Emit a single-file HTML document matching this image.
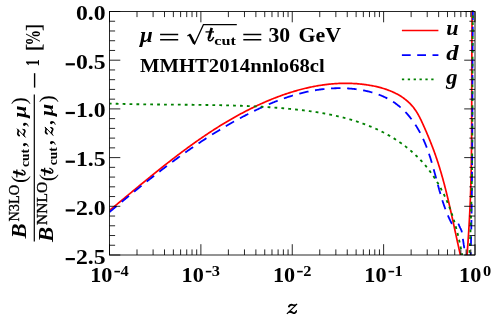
<!DOCTYPE html>
<html><head><meta charset="utf-8"><title>plot</title>
<style>html,body{margin:0;padding:0;background:#fff;}svg{display:block;will-change:transform;}text{font-family:"Liberation Serif",serif;font-weight:bold;fill:#000;}</style>
</head><body>
<svg width="498" height="325" viewBox="0 0 498 325">
<rect x="0" y="0" width="498" height="325" fill="#fff"/>
<defs><clipPath id="c"><rect x="109.5" y="10.6" width="365.5" height="244.4"/></clipPath></defs>
<g clip-path="url(#c)" fill="none" stroke-linejoin="round">
<path d="M109.48,210.40 L110.26,209.77 L111.04,209.13 L111.81,208.49 L112.59,207.86 L113.36,207.22 L114.14,206.58 L114.91,205.95 L115.69,205.31 L116.46,204.67 L117.23,204.04 L118.01,203.40 L118.78,202.76 L119.55,202.12 L120.33,201.48 L121.10,200.84 L121.87,200.21 L122.65,199.57 L123.42,198.93 L124.19,198.29 L124.96,197.65 L125.74,197.01 L126.51,196.37 L127.28,195.73 L128.05,195.10 L128.83,194.46 L129.60,193.82 L130.37,193.18 L131.14,192.54 L131.92,191.90 L132.69,191.26 L133.46,190.63 L134.23,189.99 L135.01,189.35 L135.78,188.71 L136.55,188.08 L137.32,187.44 L138.10,186.80 L138.87,186.16 L139.64,185.53 L140.42,184.89 L141.19,184.26 L141.96,183.62 L142.74,182.99 L143.51,182.35 L144.29,181.72 L145.06,181.08 L145.83,180.45 L146.61,179.82 L147.38,179.18 L148.16,178.55 L148.94,177.92 L149.71,177.29 L150.49,176.66 L151.26,176.03 L152.04,175.40 L152.82,174.77 L153.60,174.14 L154.37,173.51 L155.15,172.88 L155.93,172.26 L156.71,171.63 L157.49,171.01 L158.27,170.38 L159.05,169.76 L159.83,169.13 L160.61,168.51 L161.39,167.89 L162.18,167.27 L162.96,166.65 L163.74,166.03 L164.53,165.41 L165.31,164.79 L166.09,164.17 L166.88,163.56 L167.66,162.94 L168.45,162.33 L169.24,161.71 L170.03,161.10 L170.81,160.49 L171.60,159.88 L172.39,159.27 L173.18,158.66 L173.97,158.05 L174.76,157.44 L175.55,156.84 L176.35,156.23 L177.14,155.63 L177.93,155.02 L178.73,154.42 L179.52,153.82 L180.32,153.22 L181.12,152.62 L181.91,152.03 L182.71,151.43 L183.51,150.84 L184.31,150.24 L185.11,149.65 L185.91,149.06 L186.72,148.47 L187.52,147.88 L188.32,147.29 L189.13,146.71 L189.93,146.12 L190.74,145.54 L191.55,144.96 L192.36,144.38 L193.16,143.80 L193.97,143.22 L194.79,142.64 L195.60,142.07 L196.41,141.49 L197.22,140.92 L198.04,140.35 L198.86,139.78 L199.67,139.22 L200.49,138.65 L201.31,138.09 L202.13,137.52 L202.95,136.96 L203.77,136.40 L204.60,135.84 L205.42,135.29 L206.25,134.73 L207.07,134.18 L207.90,133.63 L208.73,133.08 L209.56,132.53 L210.39,131.98 L211.22,131.44 L212.06,130.90 L212.89,130.36 L213.73,129.82 L214.56,129.28 L215.40,128.74 L216.24,128.21 L217.08,127.68 L217.92,127.15 L218.77,126.62 L219.61,126.09 L220.46,125.57 L221.30,125.05 L222.15,124.53 L223.00,124.01 L223.85,123.49 L224.70,122.98 L225.56,122.47 L226.41,121.96 L227.27,121.45 L228.13,120.94 L228.99,120.44 L229.85,119.94 L230.71,119.44 L231.57,118.94 L232.44,118.44 L233.31,117.95 L234.17,117.46 L235.04,116.97 L235.91,116.48 L236.79,116.00 L237.66,115.52 L238.54,115.04 L239.41,114.56 L240.29,114.09 L241.17,113.61 L242.05,113.14 L242.94,112.67 L243.82,112.21 L244.71,111.74 L245.60,111.28 L246.49,110.83 L247.38,110.37 L248.27,109.92 L249.16,109.46 L250.06,109.02 L250.96,108.57 L251.86,108.13 L252.76,107.68 L253.66,107.25 L254.57,106.81 L255.47,106.38 L256.38,105.95 L257.29,105.52 L258.20,105.09 L259.12,104.67 L260.03,104.25 L260.95,103.83 L261.87,103.42 L262.78,103.01 L263.71,102.60 L264.63,102.20 L265.55,101.80 L266.48,101.40 L267.40,101.00 L268.33,100.61 L269.26,100.22 L270.19,99.84 L271.12,99.46 L272.06,99.08 L272.99,98.70 L273.93,98.33 L274.87,97.96 L275.81,97.60 L276.75,97.24 L277.69,96.88 L278.63,96.53 L279.58,96.18 L280.52,95.83 L281.47,95.49 L282.42,95.15 L283.37,94.82 L284.32,94.48 L285.27,94.16 L286.22,93.84 L287.17,93.52 L288.13,93.20 L289.08,92.89 L290.04,92.58 L291.00,92.28 L291.96,91.98 L292.92,91.69 L293.88,91.40 L294.84,91.12 L295.81,90.84 L296.77,90.56 L297.74,90.29 L298.70,90.02 L299.67,89.76 L300.64,89.50 L301.61,89.25 L302.58,89.00 L303.55,88.76 L304.52,88.52 L305.49,88.28 L306.46,88.05 L307.44,87.83 L308.41,87.61 L309.39,87.39 L310.36,87.18 L311.34,86.98 L312.32,86.78 L313.30,86.58 L314.28,86.40 L315.26,86.21 L316.24,86.03 L317.22,85.86 L318.20,85.69 L319.18,85.53 L320.17,85.37 L321.15,85.22 L322.13,85.07 L323.12,84.93 L324.10,84.80 L325.09,84.67 L326.08,84.54 L327.06,84.42 L328.05,84.31 L329.04,84.20 L330.03,84.10 L331.02,84.01 L332.00,83.92 L332.99,83.84 L333.98,83.76 L334.97,83.69 L335.97,83.62 L336.96,83.56 L337.95,83.51 L338.94,83.46 L339.93,83.42 L340.92,83.39 L341.92,83.36 L342.91,83.34 L343.90,83.32 L344.90,83.31 L345.89,83.31 L346.88,83.31 L347.88,83.32 L348.87,83.34 L349.87,83.37 L350.86,83.40 L351.85,83.43 L352.85,83.48 L353.84,83.53 L354.84,83.59 L355.83,83.65 L356.83,83.72 L357.82,83.80 L358.82,83.88 L359.81,83.98 L360.81,84.08 L361.80,84.18 L362.80,84.30 L363.79,84.42 L364.79,84.54 L365.78,84.68 L366.77,84.82 L367.77,84.97 L368.76,85.13 L369.76,85.29 L370.75,85.47 L371.74,85.65 L372.73,85.84 L373.72,86.03 L374.71,86.24 L375.69,86.45 L376.67,86.68 L377.65,86.91 L378.63,87.15 L379.60,87.40 L380.57,87.66 L381.54,87.93 L382.50,88.21 L383.46,88.49 L384.41,88.79 L385.36,89.10 L386.30,89.42 L387.24,89.75 L388.18,90.09 L389.10,90.44 L390.02,90.80 L390.94,91.18 L391.85,91.56 L392.75,91.96 L393.64,92.37 L394.53,92.79 L395.41,93.22 L396.28,93.66 L397.14,94.12 L398.00,94.59 L398.84,95.07 L399.68,95.56 L400.51,96.07 L401.33,96.59 L402.14,97.12 L402.94,97.67 L403.72,98.23 L404.50,98.80 L405.27,99.39 L406.02,99.99 L406.77,100.60 L407.50,101.24 L408.22,101.88 L408.93,102.54 L409.63,103.21 L410.31,103.90 L410.99,104.61 L411.64,105.33 L412.29,106.06 L412.92,106.81 L413.54,107.58 L414.14,108.36 L414.73,109.16 L415.30,109.98 L415.86,110.81 L416.41,111.65 L416.95,112.51 L417.47,113.38 L417.98,114.26 L418.48,115.15 L418.97,116.05 L419.45,116.96 L419.92,117.88 L420.39,118.80 L420.84,119.73 L421.29,120.66 L421.74,121.60 L422.17,122.54 L422.61,123.49 L423.03,124.43 L423.46,125.38 L423.88,126.32 L424.29,127.27 L424.71,128.21 L425.12,129.15 L425.53,130.09 L425.94,131.03 L426.34,131.96 L426.74,132.90 L427.14,133.83 L427.54,134.77 L427.93,135.70 L428.32,136.63 L428.71,137.56 L429.09,138.50 L429.47,139.43 L429.85,140.36 L430.23,141.29 L430.60,142.22 L430.97,143.15 L431.34,144.08 L431.70,145.01 L432.06,145.94 L432.42,146.87 L432.77,147.81 L433.13,148.74 L433.48,149.67 L433.82,150.60 L434.16,151.54 L434.50,152.47 L434.84,153.41 L435.17,154.35 L435.50,155.29 L435.83,156.23 L436.15,157.17 L436.47,158.11 L436.79,159.05 L437.11,159.99 L437.42,160.94 L437.73,161.88 L438.04,162.83 L438.34,163.77 L438.64,164.72 L438.94,165.67 L439.24,166.62 L439.53,167.57 L439.82,168.52 L440.11,169.47 L440.40,170.42 L440.68,171.38 L440.96,172.33 L441.24,173.28 L441.52,174.24 L441.79,175.19 L442.06,176.15 L442.33,177.11 L442.60,178.07 L442.87,179.02 L443.13,179.98 L443.39,180.94 L443.65,181.90 L443.91,182.87 L444.17,183.83 L444.42,184.79 L444.67,185.75 L444.92,186.72 L445.17,187.68 L445.42,188.65 L445.67,189.61 L445.91,190.58 L446.15,191.54 L446.39,192.51 L446.63,193.48 L446.87,194.45 L447.11,195.41 L447.34,196.38 L447.57,197.35 L447.81,198.32 L448.04,199.29 L448.27,200.26 L448.50,201.23 L448.72,202.21 L448.95,203.18 L449.17,204.15 L449.40,205.12 L449.62,206.09 L449.84,207.07 L450.07,208.04 L450.29,209.02 L450.51,209.99 L450.72,210.96 L450.94,211.94 L451.16,212.91 L451.38,213.89 L451.59,214.86 L451.81,215.84 L452.02,216.82 L452.24,217.79 L452.45,218.77 L452.66,219.74 L452.88,220.72 L453.09,221.70 L453.30,222.67 L453.51,223.65 L453.73,224.63 L453.94,225.61 L454.15,226.58 L454.36,227.56 L454.57,228.54 L454.78,229.52 L454.99,230.49 L455.20,231.47 L455.41,232.45 L455.63,233.43 L455.84,234.41 L456.05,235.38 L456.26,236.36 L456.47,237.34 L456.68,238.32 L456.90,239.29 L457.11,240.27 L457.32,241.25 L457.54,242.23 L457.75,243.20 L457.97,244.18 L458.18,245.16 L458.40,246.14 L458.61,247.11 L458.83,248.09 L459.05,249.07 L459.27,250.04 L459.49,251.02 L459.71,252.00 L459.93,252.97 L460.15,253.95 L460.38,254.92 L460.60,255.90 L460.83,256.87 L461.05,257.85 L461.28,258.82" stroke="#ff0000" stroke-width="1.7"/>
<path d="M466.74,258.80 L466.82,257.80 L466.90,256.81 L466.98,255.81 L467.06,254.81 L467.14,253.81 L467.22,252.82 L467.29,251.82 L467.37,250.82 L467.44,249.82 L467.52,248.83 L467.59,247.83 L467.66,246.83 L467.74,245.83 L467.81,244.84 L467.88,243.84 L467.95,242.84 L468.02,241.84 L468.09,240.85 L468.15,239.85 L468.22,238.85 L468.29,237.85 L468.36,236.86 L468.42,235.86 L468.49,234.86 L468.55,233.86 L468.61,232.87 L468.68,231.87 L468.74,230.87 L468.80,229.87 L468.86,228.87 L468.92,227.88 L468.98,226.88 L469.04,225.88 L469.10,224.88 L469.15,223.88 L469.21,222.89 L469.27,221.89 L469.32,220.89 L469.38,219.89 L469.43,218.89 L469.48,217.90 L469.54,216.90 L469.59,215.90 L469.64,214.90 L469.69,213.90 L469.74,212.90 L469.79,211.91 L469.84,210.91 L469.88,209.91 L469.93,208.91 L469.98,207.91 L470.02,206.91 L470.07,205.91 L470.11,204.92 L470.15,203.92 L470.19,202.92 L470.24,201.92 L470.28,200.92 L470.32,199.92 L470.36,198.92 L470.40,197.93 L470.43,196.93 L470.47,195.93 L470.51,194.93 L470.54,193.93 L470.58,192.93 L470.61,191.93 L470.65,190.93 L470.68,189.94 L470.71,188.94 L470.74,187.94 L470.77,186.94 L470.80,185.94 L470.83,184.94 L470.86,183.94 L470.89,182.94 L470.92,181.94 L470.94,180.94 L470.97,179.95 L471.00,178.95 L471.02,177.95 L471.04,176.95 L471.07,175.95 L471.09,174.95 L471.11,173.95 L471.14,172.95 L471.16,171.95 L471.18,170.95 L471.20,169.95 L471.22,168.95 L471.24,167.95 L471.25,166.95 L471.27,165.96 L471.29,164.96 L471.31,163.96 L471.32,162.96 L471.34,161.96 L471.35,160.96 L471.37,159.96 L471.38,158.96 L471.40,157.96 L471.41,156.96 L471.43,155.96 L471.44,154.96 L471.45,153.96 L471.46,152.96 L471.47,151.96 L471.48,150.96 L471.50,149.96 L471.51,148.96 L471.52,147.96 L471.53,146.96 L471.53,145.96 L471.54,144.97 L471.55,143.97 L471.56,142.97 L471.57,141.97 L471.58,140.97 L471.58,139.97 L471.59,138.97 L471.60,137.97 L471.60,136.97 L471.61,135.97 L471.62,134.97 L471.62,133.97 L471.63,132.97 L471.63,131.97 L471.64,130.97 L471.64,129.97 L471.65,128.97 L471.65,127.97 L471.65,126.97 L471.66,125.97 L471.66,124.97 L471.67,123.97 L471.67,122.97 L471.67,121.97 L471.68,120.97 L471.68,119.97 L471.68,118.97 L471.69,117.97 L471.69,116.97 L471.69,115.97 L471.69,114.97 L471.70,113.97 L471.70,112.97 L471.70,111.97 L471.70,110.97 L471.70,109.97 L471.71,108.97 L471.71,107.97 L471.71,106.97 L471.71,105.97 L471.71,104.97 L471.72,103.97 L471.72,102.97 L471.72,101.97 L471.72,100.97 L471.72,99.97 L471.73,98.97 L471.73,97.97 L471.73,96.97 L471.73,95.97 L471.73,94.97 L471.74,93.98 L471.74,92.98 L471.74,91.98 L471.74,90.98 L471.74,89.98 L471.74,88.98 L471.75,87.98 L471.75,86.98 L471.75,85.98 L471.75,84.98 L471.75,83.98 L471.76,82.98 L471.76,81.98 L471.76,80.98 L471.76,79.98 L471.76,78.98 L471.77,77.98 L471.77,76.98 L471.77,75.98 L471.77,74.98 L471.78,73.98 L471.78,72.98 L471.78,71.98 L471.78,70.98 L471.79,69.98 L471.79,68.98 L471.79,67.98 L471.79,66.98 L471.80,65.98 L471.80,64.98 L471.80,63.98 L471.81,62.98 L471.81,61.98 L471.81,60.98 L471.82,59.98 L471.82,58.98 L471.82,57.98 L471.83,56.98 L471.83,55.98 L471.83,54.98 L471.84,53.98 L471.84,52.98 L471.85,51.98 L471.85,50.98 L471.85,49.98 L471.86,48.98 L471.86,47.98 L471.87,46.98 L471.87,45.99 L471.88,44.99 L471.88,43.99 L471.89,42.99 L471.89,41.99 L471.90,40.99 L471.91,39.99 L471.91,38.99 L471.92,37.99 L471.92,36.99 L471.93,35.99 L471.94,34.99 L471.94,33.99 L471.95,32.99 L471.96,31.99 L471.96,30.99 L471.97,29.99 L471.98,28.99 L471.99,27.99 L471.99,26.99 L472.00,25.99 L472.01,24.99 L472.02,23.99 L472.03,22.99 L472.04,21.99 L472.05,20.99 L472.05,19.99 L472.06,18.99 L472.07,17.99 L472.08,17.00 L472.09,16.00 L472.10,15.00 L472.11,14.00 L472.12,13.00 L472.14,12.00 L472.15,11.00 L472.16,10.00 L472.17,9.00 L472.18,8.00 L472.19,7.00 L472.20,6.00 L472.22,5.00" stroke="#ff0000" stroke-width="1.7"/>
<path d="M109.40,212.12 L109.79,211.80 L110.18,211.48 L110.56,211.16 L110.95,210.83 L111.34,210.51 L111.72,210.19 L112.11,209.87 L112.49,209.54 L112.88,209.22 L113.27,208.90 L113.65,208.58 L114.04,208.26 L114.43,207.94 L114.81,207.61 L115.20,207.29 L115.59,206.97 L115.97,206.65 L116.36,206.33 L116.74,206.01 L117.13,205.69 L117.52,205.36 L117.90,205.04 L118.29,204.72 L118.68,204.40 L119.06,204.08 L119.45,203.76 L119.84,203.44 L120.22,203.12 L120.61,202.80 L121.00,202.48 L121.38,202.16 L121.77,201.84 L122.16,201.52 L122.54,201.20 L122.93,200.88 L123.32,200.56 L123.70,200.24 L124.09,199.92 L124.48,199.60 L124.87,199.28 L125.25,198.97 L125.64,198.65 L126.03,198.33 L126.41,198.01 L126.80,197.69 L127.19,197.37 L127.58,197.05 L127.96,196.74 L128.35,196.42 L128.74,196.10 L129.13,195.78 L129.51,195.47 L129.90,195.15 L130.29,194.83 L130.68,194.51 L131.06,194.20 L131.45,193.88 L131.84,193.56 L132.23,193.25 L132.62,192.93 L133.00,192.61 L133.39,192.30 L133.78,191.98 L134.17,191.67 L134.56,191.35 L134.95,191.03 L135.33,190.72 L135.72,190.40 L136.11,190.09 L136.50,189.77 L136.89,189.46 L137.28,189.14 L137.67,188.83 L138.06,188.52 L138.45,188.20 L138.84,187.89 L139.22,187.57 L139.61,187.26 L140.39,186.63 L141.17,186.01 L141.95,185.38 L142.73,184.76 L143.51,184.13 L144.29,183.51 L145.07,182.88 L145.86,182.26 L146.64,181.64 L147.42,181.02 L148.20,180.40 L148.99,179.78 L149.77,179.16 L150.55,178.54 L151.34,177.93 L152.12,177.31 L152.91,176.70 L153.69,176.08 L154.48,175.47 L155.27,174.86 L156.06,174.24 L156.84,173.63 L157.63,173.02 L158.42,172.41 L159.21,171.80 L160.00,171.20 L160.79,170.59 L161.58,169.98 L162.37,169.38 L163.17,168.77 L163.96,168.17 L164.75,167.57 L165.55,166.97 L166.34,166.37 L167.14,165.77 L167.93,165.17 L168.73,164.57 L169.53,163.98 L170.32,163.38 L171.12,162.79 L171.92,162.19 L172.72,161.60 L173.52,161.01 L174.32,160.42 L175.12,159.83 L175.93,159.24 L176.73,158.66 L177.53,158.07 L178.34,157.49 L179.14,156.90 L179.95,156.32 L180.76,155.74 L181.57,155.16 L182.37,154.58 L183.18,154.00 L183.99,153.43 L184.80,152.85 L185.62,152.28 L186.43,151.70 L187.24,151.13 L188.06,150.56 L188.87,149.99 L189.69,149.42 L190.50,148.86 L191.32,148.29 L192.14,147.73 L192.96,147.16 L193.78,146.60 L194.60,146.04 L195.42,145.48 L196.25,144.93 L197.07,144.37 L197.90,143.81 L198.72,143.26 L199.55,142.71 L200.38,142.16 L201.21,141.61 L202.04,141.06 L202.87,140.51 L203.70,139.97 L204.53,139.42 L205.37,138.88 L206.20,138.34 L207.04,137.80 L207.87,137.26 L208.71,136.72 L209.55,136.19 L210.39,135.65 L211.23,135.12 L212.07,134.59 L212.92,134.06 L213.76,133.53 L214.61,133.00 L215.46,132.48 L216.30,131.96 L217.15,131.43 L218.00,130.91 L218.85,130.40 L219.71,129.88 L220.56,129.36 L221.41,128.85 L222.27,128.34 L223.13,127.83 L223.99,127.32 L224.85,126.81 L225.71,126.30 L226.57,125.80 L227.43,125.30 L228.30,124.80 L229.16,124.30 L230.03,123.80 L230.90,123.30 L231.33,123.06 L231.77,122.81 L232.20,122.56 L232.64,122.32 L233.07,122.07 L233.51,121.83 L233.95,121.58 L234.38,121.34 L234.82,121.10 L235.26,120.85 L235.70,120.61 L236.14,120.37 L236.57,120.12 L237.01,119.88 L237.45,119.64 L237.89,119.40 L238.33,119.16 L238.77,118.92 L239.21,118.68 L239.65,118.44 L240.10,118.20 L240.54,117.97 L240.98,117.73 L241.42,117.49 L241.86,117.26 L242.31,117.02 L242.75,116.78 L243.19,116.55 L243.64,116.31 L244.08,116.08 L244.53,115.85 L244.97,115.61 L245.42,115.38 L245.86,115.15 L246.31,114.92 L246.76,114.69 L247.20,114.46 L247.65,114.23 L248.10,114.00 L248.54,113.77 L248.99,113.54 L249.44,113.31 L249.89,113.09 L250.34,112.86 L250.79,112.64 L251.24,112.41 L251.69,112.19 L252.14,111.96 L252.59,111.74 L253.04,111.52 L253.49,111.29 L253.94,111.07 L254.39,110.85 L254.85,110.63 L255.30,110.41 L255.75,110.19 L256.21,109.98 L256.66,109.76 L257.11,109.54 L257.57,109.33 L258.02,109.11 L258.48,108.90 L258.93,108.68 L259.39,108.47 L259.84,108.26 L260.30,108.05 L260.76,107.84 L261.21,107.63 L261.67,107.42 L262.13,107.21 L262.58,107.00 L263.04,106.79 L263.50,106.59 L263.96,106.38 L264.42,106.18 L264.88,105.97 L265.34,105.77 L265.80,105.57 L266.26,105.37 L266.72,105.17 L267.18,104.97 L267.64,104.77 L268.10,104.57 L268.56,104.37 L269.02,104.18 L269.49,103.98 L269.95,103.79 L270.41,103.59 L270.88,103.40 L271.34,103.21 L271.80,103.02 L272.27,102.83 L272.73,102.64 L273.20,102.45 L273.66,102.26 L274.13,102.08 L274.59,101.89 L275.06,101.71 L275.52,101.52 L275.99,101.34 L276.46,101.16 L276.92,100.98 L277.39,100.80 L277.86,100.62 L278.33,100.44 L278.80,100.27 L279.26,100.09 L279.73,99.92 L280.20,99.74 L280.67,99.57 L281.14,99.40 L281.61,99.23 L282.55,98.89 L283.49,98.56 L284.44,98.23 L285.38,97.90 L286.33,97.58 L287.27,97.26 L288.22,96.95 L289.17,96.64 L290.12,96.34 L291.07,96.04 L292.02,95.75 L292.98,95.46 L293.93,95.18 L294.89,94.90 L295.84,94.62 L296.80,94.36 L297.76,94.09 L298.72,93.83 L299.68,93.58 L300.64,93.33 L301.60,93.08 L302.57,92.85 L303.53,92.61 L304.50,92.39 L305.47,92.16 L306.43,91.95 L307.40,91.73 L308.37,91.53 L309.34,91.33 L310.32,91.13 L311.29,90.94 L312.26,90.76 L313.24,90.58 L314.21,90.41 L315.19,90.25 L316.17,90.09 L317.15,89.93 L318.13,89.79 L319.11,89.65 L320.09,89.51 L321.08,89.38 L322.06,89.26 L323.04,89.14 L324.03,89.03 L325.02,88.93 L326.00,88.83 L326.99,88.74 L327.98,88.66 L328.97,88.58 L329.96,88.51 L330.96,88.45 L331.95,88.39 L332.94,88.34 L333.94,88.30 L334.94,88.26 L335.93,88.23 L336.93,88.21 L337.93,88.19 L338.93,88.19 L339.43,88.19 L339.93,88.19 L340.43,88.19 L340.93,88.19 L341.43,88.20 L341.93,88.21 L342.43,88.22 L342.93,88.23 L343.44,88.24 L343.94,88.26 L344.44,88.27 L344.94,88.29 L345.45,88.31 L345.95,88.34 L346.45,88.36 L346.95,88.39 L347.46,88.42 L347.96,88.45 L348.47,88.48 L348.97,88.51 L349.47,88.55 L349.98,88.59 L350.48,88.63 L350.99,88.67 L351.49,88.72 L351.99,88.76 L352.50,88.81 L353.00,88.86 L353.51,88.91 L354.01,88.97 L354.51,89.02 L355.02,89.08 L355.52,89.14 L356.03,89.20 L356.53,89.27 L357.03,89.34 L357.53,89.41 L358.04,89.48 L358.54,89.55 L359.04,89.62 L359.54,89.70 L360.04,89.78 L360.54,89.87 L361.04,89.95 L361.54,90.04 L362.04,90.12 L362.54,90.22 L363.04,90.31 L363.53,90.40 L364.03,90.50 L364.53,90.60 L365.02,90.70 L365.52,90.81 L366.01,90.91 L366.50,91.03 L367.00,91.14 L367.49,91.25 L367.98,91.37 L368.47,91.49 L368.96,91.61 L369.45,91.73 L369.94,91.86 L370.42,91.99 L370.91,92.11 L371.39,92.25 L371.88,92.38 L372.36,92.52 L372.84,92.66 L373.32,92.81 L373.80,92.95 L374.28,93.10 L374.76,93.25 L375.23,93.40 L375.71,93.56 L376.66,93.88 L377.60,94.21 L378.53,94.55 L379.46,94.90 L380.39,95.26 L381.31,95.63 L382.22,96.01 L383.13,96.41 L384.03,96.81 L384.92,97.23 L385.81,97.65 L386.69,98.09 L387.56,98.54 L388.43,99.00 L389.29,99.47 L390.14,99.96 L390.98,100.45 L391.82,100.96 L392.64,101.48 L393.46,102.01 L394.27,102.55 L395.07,103.11 L395.86,103.67 L396.64,104.25 L397.41,104.84 L398.18,105.44 L398.94,106.05 L399.69,106.67 L400.42,107.31 L401.16,107.95 L401.88,108.60 L402.59,109.27 L403.30,109.94 L404.00,110.62 L404.68,111.31 L405.37,112.02 L406.04,112.73 L406.70,113.45 L407.36,114.18 L408.00,114.91 L408.64,115.66 L409.27,116.41 L409.90,117.18 L410.51,117.95 L411.12,118.72 L411.72,119.51 L412.31,120.30 L412.89,121.10 L413.46,121.91 L414.03,122.73 L414.59,123.55 L415.14,124.37 L415.68,125.21 L416.22,126.05 L416.74,126.89 L417.26,127.75 L417.77,128.60 L418.28,129.47 L418.77,130.33 L419.02,130.77 L419.26,131.21 L419.50,131.65 L419.74,132.09 L419.98,132.53 L420.21,132.97 L420.45,133.41 L420.68,133.86 L420.91,134.30 L421.14,134.75 L421.36,135.20 L421.59,135.64 L421.81,136.09 L422.03,136.54 L422.25,137.00 L422.46,137.45 L422.68,137.90 L422.89,138.36 L423.10,138.81 L423.31,139.27 L423.52,139.72 L423.72,140.18 L423.92,140.64 L424.13,141.10 L424.33,141.56 L424.53,142.02 L424.72,142.48 L424.92,142.94 L425.11,143.41 L425.30,143.87 L425.49,144.34 L425.68,144.80 L425.87,145.27 L426.05,145.73 L426.23,146.20 L426.42,146.67 L426.60,147.14 L426.78,147.61 L426.95,148.08 L427.13,148.55 L427.31,149.02 L427.48,149.49 L427.65,149.97 L427.82,150.44 L427.99,150.91 L428.16,151.39 L428.33,151.86 L428.49,152.34 L428.66,152.81 L428.82,153.29 L428.98,153.77 L429.14,154.25 L429.30,154.72 L429.46,155.20 L429.62,155.68 L429.78,156.16 L429.93,156.64 L430.09,157.12 L430.24,157.60 L430.39,158.08 L430.54,158.56 L430.69,159.05 L430.84,159.53 L430.99,160.01 L431.14,160.50 L431.29,160.98 L431.43,161.46 L431.58,161.95 L431.72,162.43 L431.87,162.92 L432.01,163.40 L432.15,163.89 L432.29,164.37 L432.43,164.86 L432.57,165.34 L432.71,165.83 L432.85,166.32 L432.99,166.80 L433.13,167.29 L433.26,167.78 L433.40,168.26 L433.54,168.75 L433.67,169.24 L433.81,169.73 L433.94,170.21 L434.08,170.70 L434.21,171.19 L434.34,171.68 L434.48,172.17 L434.61,172.65 L434.74,173.14 L434.88,173.63 L435.01,174.12 L435.14,174.61 L435.27,175.10 L435.40,175.58 L435.53,176.07 L435.66,176.56 L435.79,177.05 L435.93,177.54 L436.06,178.03 L436.19,178.51 L436.32,179.00 L436.45,179.49 L436.58,179.98 L436.71,180.47 L436.84,180.95 L436.97,181.44 L437.10,181.93 L437.23,182.42 L437.36,182.90 L437.49,183.39 L437.62,183.88 L437.75,184.37 L437.89,184.85 L438.02,185.34 L438.15,185.82 L438.28,186.31 L438.41,186.79 L438.55,187.28 L438.68,187.77 L438.81,188.25 L438.95,188.73 L439.08,189.22 L439.22,189.70 L439.35,190.19 L439.49,190.67 L439.62,191.15 L439.76,191.63 L439.90,192.12 L440.04,192.60 L440.17,193.08 L440.31,193.56 L440.45,194.04 L440.73,195.00 L441.02,195.96 L441.30,196.91 L441.59,197.87 L441.89,198.82 L442.18,199.77 L442.48,200.71 L442.79,201.66 L443.10,202.60 L443.41,203.54 L443.72,204.48 L444.04,205.41 L444.37,206.34 L444.70,207.27 L445.04,208.20 L445.38,209.12 L445.72,210.04 L446.07,210.96 L446.43,211.87 L446.79,212.78 L447.16,213.69 L447.54,214.59 L447.92,215.49 L448.31,216.38 L448.70,217.27 L449.10,218.16 L449.51,219.04 L449.93,219.92 L450.35,220.79 L450.78,221.66 L451.22,222.53 L451.67,223.39 L452.19,223.33 L452.71,223.28 L453.23,223.22 L453.75,223.16 L454.27,223.10 L454.79,223.05 L455.30,222.99 L455.82,222.93 L456.34,222.87 L456.86,222.82 L457.38,222.76 L457.90,222.70 L458.12,223.18 L458.34,223.66 L458.55,224.15 L458.77,224.63 L458.99,225.11 L459.21,225.59 L459.42,226.08 L459.64,226.56 L459.86,227.04 L460.08,227.52 L460.29,228.01 L460.51,228.49 L460.73,228.97 L460.95,229.45 L461.16,229.94 L461.38,230.42 L461.60,230.90 L461.69,231.43 L461.77,231.96 L461.86,232.49 L461.94,233.01 L462.03,233.54 L462.11,234.07 L462.20,234.60 L462.29,235.13 L462.37,235.66 L462.46,236.19 L462.54,236.71 L462.63,237.24 L462.71,237.77 L462.80,238.30 L462.88,238.81 L462.95,239.31 L463.03,239.82 L463.11,240.32 L463.18,240.83 L463.26,241.34 L463.34,241.84 L463.41,242.35 L463.49,242.85 L463.56,243.36 L463.64,243.86 L463.72,244.37 L463.79,244.88 L463.87,245.38 L463.95,245.89 L464.02,246.39 L464.10,246.90 L464.15,247.40 L464.20,247.90 L464.25,248.40 L464.30,248.90 L464.35,249.40 L464.40,249.90 L464.45,250.40 L464.50,250.90 L464.55,251.40 L464.60,251.90 L464.65,252.40 L464.70,252.90 L464.75,253.40 L464.80,253.90 L464.85,254.40 L464.90,254.90 L464.96,255.46 L465.01,256.01 L465.07,256.57 L465.13,257.13 L465.19,257.69 L465.24,258.24 L465.30,258.80" stroke="#0000ff" stroke-width="1.8" stroke-dasharray="9.5 6.615" stroke-dashoffset="0.17"/>
<path d="M470.55,258.80 L470.58,257.81 L470.61,256.81 L470.64,255.81 L470.66,254.81 L470.69,253.81 L470.72,252.81 L470.75,251.81 L470.77,250.81 L470.80,249.81 L470.83,248.82 L470.85,247.82 L470.88,246.82 L470.90,245.82 L470.93,244.82 L470.95,243.82 L470.98,242.82 L471.00,241.82 L471.03,240.82 L471.05,239.83 L471.07,238.83 L471.10,237.83 L471.12,236.83 L471.14,235.83 L471.16,234.83 L471.19,233.83 L471.21,232.83 L471.23,231.83 L471.25,230.84 L471.27,229.84 L471.29,228.84 L471.31,227.84 L471.33,226.84 L471.35,225.84 L471.37,224.84 L471.39,223.84 L471.41,222.84 L471.43,221.84 L471.44,220.84 L471.46,219.85 L471.48,218.85 L471.50,217.85 L471.51,216.85 L471.53,215.85 L471.55,214.85 L471.56,213.85 L471.58,212.85 L471.60,211.85 L471.61,210.85 L471.63,209.85 L471.64,208.86 L471.66,207.86 L471.67,206.86 L471.69,205.86 L471.70,204.86 L471.71,203.86 L471.73,202.86 L471.74,201.86 L471.76,200.86 L471.77,199.86 L471.78,198.86 L471.79,197.87 L471.81,196.87 L471.82,195.87 L471.83,194.87 L471.84,193.87 L471.85,192.87 L471.87,191.87 L471.88,190.87 L471.89,189.87 L471.90,188.87 L471.91,187.87 L471.92,186.87 L471.93,185.87 L471.94,184.88 L471.95,183.88 L471.96,182.88 L471.97,181.88 L471.98,180.88 L471.99,179.88 L472.00,178.88 L472.01,177.88 L472.02,176.88 L472.03,175.88 L472.03,174.88 L472.04,173.88 L472.05,172.88 L472.06,171.89 L472.07,170.89 L472.07,169.89 L472.08,168.89 L472.09,167.89 L472.10,166.89 L472.10,165.89 L472.11,164.89 L472.12,163.89 L472.12,162.89 L472.13,161.89 L472.14,160.89 L472.14,159.89 L472.15,158.89 L472.16,157.90 L472.16,156.90 L472.17,155.90 L472.17,154.90 L472.18,153.90 L472.18,152.90 L472.19,151.90 L472.19,150.90 L472.20,149.90 L472.21,148.90 L472.21,147.90 L472.22,146.90 L472.22,145.90 L472.22,144.90 L472.23,143.90 L472.23,142.91 L472.24,141.91 L472.24,140.91 L472.25,139.91 L472.25,138.91 L472.25,137.91 L472.26,136.91 L472.26,135.91 L472.27,134.91 L472.27,133.91 L472.27,132.91 L472.28,131.91 L472.28,130.91 L472.29,129.91 L472.29,128.91 L472.29,127.91 L472.30,126.92 L472.30,125.92 L472.30,124.92 L472.31,123.92 L472.31,122.92 L472.31,121.92 L472.31,120.92 L472.32,119.92 L472.32,118.92 L472.32,117.92 L472.33,116.92 L472.33,115.92 L472.33,114.92 L472.34,113.92 L472.34,112.92 L472.34,111.92 L472.34,110.93 L472.35,109.93 L472.35,108.93 L472.35,107.93 L472.36,106.93 L472.36,105.93 L472.36,104.93 L472.36,103.93 L472.37,102.93 L472.37,101.93 L472.37,100.93 L472.38,99.93 L472.38,98.93 L472.38,97.93 L472.38,96.93 L472.39,95.94 L472.39,94.94 L472.39,93.94 L472.39,92.94 L472.40,91.94 L472.40,90.94 L472.40,89.94 L472.41,88.94 L472.41,87.94 L472.41,86.94 L472.42,85.94 L472.42,84.94 L472.42,83.94 L472.43,82.94 L472.43,81.94 L472.43,80.94 L472.44,79.95 L472.44,78.95 L472.44,77.95 L472.45,76.95 L472.45,75.95 L472.45,74.95 L472.46,73.95 L472.46,72.95 L472.46,71.95 L472.47,70.95 L472.47,69.95 L472.48,68.95 L472.48,67.95 L472.49,66.95 L472.49,65.95 L472.49,64.96 L472.50,63.96 L472.50,62.96 L472.51,61.96 L472.51,60.96 L472.52,59.96 L472.52,58.96 L472.53,57.96 L472.53,56.96 L472.54,55.96 L472.54,54.96 L472.55,53.96 L472.55,52.96 L472.56,51.96 L472.57,50.96 L472.57,49.97 L472.58,48.97 L472.58,47.97 L472.59,46.97 L472.60,45.97 L472.60,44.97 L472.61,43.97 L472.62,42.97 L472.62,41.97 L472.63,40.97 L472.64,39.97 L472.65,38.97 L472.65,37.97 L472.66,36.97 L472.67,35.98 L472.68,34.98 L472.69,33.98 L472.69,32.98 L472.70,31.98 L472.71,30.98 L472.72,29.98 L472.73,28.98 L472.74,27.98 L472.75,26.98 L472.76,25.98 L472.77,24.98 L472.78,23.98 L472.79,22.99 L472.80,21.99 L472.81,20.99 L472.82,19.99 L472.83,18.99 L472.84,17.99 L472.85,16.99 L472.86,15.99 L472.87,14.99 L472.88,13.99 L472.90,12.99 L472.91,11.99 L472.92,11.00 L472.93,10.00 L472.95,9.00 L472.96,8.00 L472.97,7.00 L472.99,6.00 L473.00,5.00" stroke="#0000ff" stroke-width="1.8" stroke-dasharray="9.5 6.615" stroke-dashoffset="3"/>
<path d="M109.48,103.53 L110.48,103.56 L111.48,103.60 L112.48,103.63 L113.48,103.66 L114.48,103.70 L115.48,103.73 L116.48,103.76 L117.47,103.79 L118.47,103.82 L119.47,103.85 L120.47,103.87 L121.47,103.90 L122.47,103.93 L123.47,103.95 L124.47,103.98 L125.47,104.00 L126.47,104.02 L127.47,104.05 L128.47,104.07 L129.47,104.09 L130.47,104.11 L131.46,104.13 L132.46,104.15 L133.46,104.17 L134.46,104.19 L135.46,104.21 L136.46,104.23 L137.46,104.24 L138.46,104.26 L139.46,104.28 L140.46,104.29 L141.46,104.31 L142.46,104.32 L143.46,104.34 L144.46,104.35 L145.45,104.37 L146.45,104.38 L147.45,104.39 L148.45,104.40 L149.45,104.42 L150.45,104.43 L151.45,104.44 L152.45,104.45 L153.45,104.46 L154.45,104.47 L155.45,104.48 L156.45,104.49 L157.44,104.50 L158.44,104.51 L159.44,104.52 L160.44,104.53 L161.44,104.54 L162.44,104.55 L163.44,104.56 L164.44,104.57 L165.44,104.57 L166.43,104.58 L167.43,104.59 L168.43,104.60 L169.43,104.61 L170.43,104.61 L171.43,104.62 L172.43,104.63 L173.43,104.64 L174.43,104.64 L175.42,104.65 L176.42,104.66 L177.42,104.67 L178.42,104.67 L179.42,104.68 L180.42,104.69 L181.42,104.70 L182.41,104.71 L183.41,104.71 L184.41,104.72 L185.41,104.73 L186.41,104.74 L187.41,104.75 L188.40,104.76 L189.40,104.76 L190.40,104.77 L191.40,104.78 L192.40,104.79 L193.39,104.80 L194.39,104.81 L195.39,104.82 L196.39,104.83 L197.39,104.84 L198.38,104.85 L199.38,104.87 L200.38,104.88 L201.38,104.89 L202.38,104.90 L203.37,104.91 L204.37,104.93 L205.37,104.94 L206.37,104.96 L207.36,104.97 L208.36,104.98 L209.36,105.00 L210.36,105.01 L211.35,105.03 L212.35,105.05 L213.35,105.06 L214.35,105.08 L215.34,105.10 L216.34,105.12 L217.34,105.14 L218.33,105.16 L219.33,105.18 L220.33,105.20 L221.33,105.22 L222.32,105.24 L223.32,105.26 L224.32,105.29 L225.31,105.31 L226.31,105.34 L227.31,105.36 L228.30,105.39 L229.30,105.41 L230.29,105.44 L231.29,105.47 L232.29,105.50 L233.28,105.53 L234.28,105.56 L235.28,105.59 L236.27,105.62 L237.27,105.66 L238.26,105.69 L239.26,105.72 L240.26,105.76 L241.25,105.79 L242.25,105.83 L243.24,105.87 L244.24,105.91 L245.23,105.95 L246.23,105.99 L247.23,106.03 L248.22,106.07 L249.22,106.12 L250.21,106.16 L251.21,106.21 L252.20,106.25 L253.20,106.30 L254.19,106.35 L255.19,106.40 L256.18,106.45 L257.18,106.50 L258.17,106.55 L259.16,106.61 L260.16,106.66 L261.15,106.72 L262.15,106.78 L263.14,106.83 L264.14,106.89 L265.13,106.96 L266.12,107.02 L267.12,107.08 L268.11,107.14 L269.11,107.21 L270.10,107.28 L271.09,107.35 L272.09,107.41 L273.08,107.49 L274.07,107.56 L275.07,107.63 L276.06,107.71 L277.05,107.78 L278.05,107.86 L279.04,107.94 L280.03,108.02 L281.03,108.10 L282.02,108.18 L283.01,108.27 L284.00,108.35 L285.00,108.44 L285.99,108.53 L286.98,108.62 L287.97,108.71 L288.97,108.80 L289.96,108.90 L290.95,108.99 L291.94,109.09 L292.93,109.19 L293.93,109.29 L294.92,109.39 L295.91,109.50 L296.90,109.60 L297.89,109.71 L298.88,109.82 L299.87,109.93 L300.86,110.05 L301.86,110.16 L302.85,110.28 L303.84,110.40 L304.83,110.52 L305.82,110.65 L306.81,110.78 L307.80,110.91 L308.79,111.04 L309.78,111.17 L310.77,111.31 L311.76,111.45 L312.74,111.59 L313.73,111.74 L314.72,111.89 L315.22,111.96 L315.71,112.04 L316.21,112.11 L316.70,112.19 L317.19,112.27 L317.69,112.35 L318.18,112.43 L318.68,112.51 L319.17,112.59 L319.66,112.67 L320.16,112.75 L320.65,112.83 L321.15,112.92 L321.64,113.00 L322.13,113.09 L322.63,113.18 L323.12,113.26 L323.61,113.35 L324.11,113.44 L324.60,113.53 L325.09,113.62 L325.59,113.71 L326.08,113.80 L326.57,113.90 L327.07,113.99 L327.56,114.08 L328.05,114.18 L328.55,114.28 L329.04,114.37 L329.53,114.47 L330.02,114.57 L330.52,114.67 L331.01,114.77 L331.50,114.87 L331.99,114.97 L332.48,115.08 L332.98,115.18 L333.47,115.29 L333.96,115.39 L334.45,115.50 L334.94,115.61 L335.43,115.72 L335.92,115.83 L336.41,115.94 L336.90,116.05 L337.39,116.16 L337.88,116.28 L338.37,116.39 L338.86,116.51 L339.35,116.62 L339.84,116.74 L340.33,116.86 L340.82,116.98 L341.30,117.10 L341.79,117.22 L342.28,117.34 L342.77,117.46 L343.25,117.59 L343.74,117.71 L344.23,117.84 L344.71,117.97 L345.20,118.09 L345.68,118.22 L346.17,118.35 L346.66,118.49 L347.14,118.62 L347.62,118.75 L348.11,118.89 L348.59,119.02 L349.08,119.16 L349.56,119.30 L350.04,119.43 L350.52,119.57 L351.01,119.71 L351.49,119.86 L351.97,120.00 L352.45,120.14 L352.93,120.29 L353.41,120.43 L353.89,120.58 L354.37,120.73 L354.85,120.88 L355.33,121.03 L355.80,121.18 L356.28,121.33 L356.76,121.49 L357.23,121.64 L357.71,121.80 L358.19,121.96 L358.66,122.11 L359.14,122.27 L359.61,122.43 L360.08,122.60 L360.56,122.76 L361.03,122.92 L361.50,123.09 L361.98,123.26 L362.45,123.42 L362.92,123.59 L363.39,123.76 L363.86,123.93 L364.33,124.11 L365.26,124.45 L366.20,124.81 L367.13,125.17 L368.06,125.53 L368.99,125.90 L369.92,126.27 L370.84,126.65 L371.76,127.03 L372.68,127.42 L373.59,127.81 L374.51,128.21 L375.42,128.61 L376.33,129.02 L377.23,129.44 L378.13,129.86 L379.03,130.28 L379.93,130.71 L380.82,131.15 L381.71,131.59 L382.60,132.04 L383.49,132.49 L384.37,132.94 L385.25,133.41 L386.12,133.88 L386.99,134.35 L387.86,134.83 L388.73,135.32 L389.59,135.81 L390.45,136.31 L391.30,136.81 L392.15,137.32 L393.00,137.83 L393.84,138.35 L394.69,138.88 L395.52,139.41 L396.36,139.95 L397.18,140.50 L398.01,141.05 L398.83,141.61 L399.65,142.17 L400.46,142.74 L401.27,143.31 L402.08,143.89 L402.88,144.48 L403.67,145.07 L404.47,145.67 L405.25,146.27 L406.04,146.88 L406.82,147.50 L407.59,148.12 L408.36,148.75 L409.13,149.38 L409.89,150.02 L410.64,150.66 L411.40,151.31 L412.14,151.96 L412.88,152.62 L413.62,153.29 L414.35,153.96 L415.08,154.64 L415.80,155.32 L416.51,156.01 L417.22,156.70 L417.93,157.40 L418.63,158.11 L419.32,158.82 L420.01,159.53 L420.69,160.25 L421.37,160.98 L422.04,161.71 L422.71,162.44 L423.37,163.19 L424.03,163.93 L424.67,164.68 L425.32,165.44 L425.95,166.20 L426.58,166.97 L427.21,167.74 L427.83,168.52 L428.44,169.30 L429.05,170.09 L429.65,170.88 L430.24,171.68 L430.83,172.48 L431.42,173.28 L431.99,174.09 L432.56,174.91 L433.13,175.73 L433.69,176.55 L434.24,177.38 L434.79,178.21 L435.33,179.05 L435.87,179.89 L436.40,180.73 L436.92,181.58 L437.44,182.44 L437.95,183.29 L438.46,184.15 L438.96,185.02 L439.45,185.89 L439.94,186.76 L440.42,187.63 L440.90,188.51 L441.13,188.95 L441.37,189.39 L441.60,189.84 L441.84,190.28 L442.06,190.72 L442.29,191.17 L442.52,191.61 L442.75,192.06 L442.97,192.51 L443.20,192.96 L443.42,193.40 L443.64,193.85 L443.86,194.30 L444.08,194.76 L444.29,195.21 L444.51,195.66 L444.72,196.11 L444.93,196.57 L445.14,197.02 L445.35,197.48 L445.56,197.94 L445.76,198.39 L445.97,198.85 L446.17,199.31 L446.37,199.77 L446.58,200.23 L446.77,200.69 L446.97,201.15 L447.17,201.61 L447.36,202.07 L447.56,202.54 L447.75,203.00 L447.94,203.46 L448.13,203.93 L448.32,204.39 L448.51,204.86 L448.69,205.33 L448.88,205.79 L449.06,206.26 L449.24,206.73 L449.42,207.20 L449.60,207.67 L449.78,208.14 L449.96,208.61 L450.14,209.08 L450.31,209.55 L450.48,210.02 L450.66,210.49 L450.83,210.97 L451.00,211.44 L451.16,211.91 L451.33,212.39 L451.50,212.86 L451.66,213.34 L451.83,213.81 L451.99,214.29 L452.15,214.77 L452.31,215.24 L452.47,215.72 L452.63,216.20 L452.79,216.68 L452.94,217.15 L453.10,217.63 L453.25,218.11 L453.40,218.59 L453.55,219.07 L453.70,219.55 L453.85,220.03 L454.00,220.51 L454.15,220.99 L454.29,221.47 L454.44,221.95 L454.58,222.44 L454.72,222.92 L454.86,223.40 L455.01,223.88 L455.14,224.37 L455.28,224.85 L455.42,225.33 L455.56,225.81 L455.69,226.30 L455.83,226.78 L455.96,227.27 L456.09,227.75 L456.22,228.23 L456.35,228.72 L456.48,229.20 L456.61,229.69 L456.74,230.17 L456.87,230.66 L456.99,231.14 L457.12,231.63 L457.24,232.11 L457.36,232.60 L457.49,233.09 L457.61,233.57 L457.73,234.06 L457.85,234.54 L458.08,235.51 L458.31,236.49 L458.54,237.46 L458.77,238.43 L458.99,239.40 L459.21,240.37 L459.42,241.34 L459.64,242.32 L459.85,243.29 L460.05,244.26 L460.25,245.23 L460.45,246.20 L460.65,247.17 L460.85,248.13 L461.04,249.10 L461.23,250.07 L461.41,251.03 L461.59,252.00 L461.78,252.96 L461.95,253.93 L462.13,254.89 L462.30,255.85 L462.47,256.81 L462.64,257.77 L462.81,258.72" stroke="#008000" stroke-width="1.85" stroke-dasharray="2.8 4.105" stroke-dashoffset="0.66"/>
<path d="M469.22,258.80 L469.28,257.80 L469.33,256.80 L469.38,255.80 L469.43,254.81 L469.49,253.81 L469.54,252.81 L469.59,251.81 L469.64,250.81 L469.68,249.81 L469.73,248.82 L469.78,247.82 L469.83,246.82 L469.87,245.82 L469.92,244.82 L469.96,243.82 L470.01,242.83 L470.05,241.83 L470.10,240.83 L470.14,239.83 L470.18,238.83 L470.22,237.83 L470.27,236.84 L470.31,235.84 L470.35,234.84 L470.39,233.84 L470.43,232.84 L470.47,231.84 L470.50,230.84 L470.54,229.85 L470.58,228.85 L470.62,227.85 L470.65,226.85 L470.69,225.85 L470.72,224.85 L470.76,223.85 L470.79,222.86 L470.82,221.86 L470.86,220.86 L470.89,219.86 L470.92,218.86 L470.95,217.86 L470.99,216.86 L471.02,215.86 L471.05,214.87 L471.08,213.87 L471.11,212.87 L471.13,211.87 L471.16,210.87 L471.19,209.87 L471.22,208.87 L471.25,207.87 L471.27,206.88 L471.30,205.88 L471.33,204.88 L471.35,203.88 L471.38,202.88 L471.40,201.88 L471.42,200.88 L471.45,199.88 L471.47,198.88 L471.49,197.88 L471.52,196.89 L471.54,195.89 L471.56,194.89 L471.58,193.89 L471.60,192.89 L471.62,191.89 L471.65,190.89 L471.67,189.89 L471.68,188.89 L471.70,187.89 L471.72,186.89 L471.74,185.90 L471.76,184.90 L471.78,183.90 L471.79,182.90 L471.81,181.90 L471.83,180.90 L471.84,179.90 L471.86,178.90 L471.88,177.90 L471.89,176.90 L471.91,175.90 L471.92,174.90 L471.94,173.91 L471.95,172.91 L471.96,171.91 L471.98,170.91 L471.99,169.91 L472.00,168.91 L472.02,167.91 L472.03,166.91 L472.04,165.91 L472.05,164.91 L472.07,163.91 L472.08,162.91 L472.09,161.91 L472.10,160.91 L472.11,159.92 L472.12,158.92 L472.13,157.92 L472.14,156.92 L472.15,155.92 L472.16,154.92 L472.17,153.92 L472.18,152.92 L472.19,151.92 L472.19,150.92 L472.20,149.92 L472.21,148.92 L472.22,147.92 L472.23,146.92 L472.23,145.92 L472.24,144.92 L472.25,143.92 L472.25,142.92 L472.26,141.93 L472.27,140.93 L472.27,139.93 L472.28,138.93 L472.28,137.93 L472.29,136.93 L472.30,135.93 L472.30,134.93 L472.31,133.93 L472.31,132.93 L472.32,131.93 L472.32,130.93 L472.33,129.93 L472.33,128.93 L472.33,127.93 L472.34,126.93 L472.34,125.93 L472.35,124.93 L472.35,123.93 L472.35,122.93 L472.36,121.94 L472.36,120.94 L472.36,119.94 L472.37,118.94 L472.37,117.94 L472.37,116.94 L472.38,115.94 L472.38,114.94 L472.38,113.94 L472.38,112.94 L472.39,111.94 L472.39,110.94 L472.39,109.94 L472.39,108.94 L472.40,107.94 L472.40,106.94 L472.40,105.94 L472.40,104.94 L472.41,103.94 L472.41,102.94 L472.41,101.94 L472.41,100.94 L472.41,99.94 L472.42,98.95 L472.42,97.95 L472.42,96.95 L472.42,95.95 L472.42,94.95 L472.42,93.95 L472.43,92.95 L472.43,91.95 L472.43,90.95 L472.43,89.95 L472.43,88.95 L472.44,87.95 L472.44,86.95 L472.44,85.95 L472.44,84.95 L472.44,83.95 L472.44,82.95 L472.45,81.95 L472.45,80.95 L472.45,79.95 L472.45,78.95 L472.45,77.95 L472.46,76.95 L472.46,75.95 L472.46,74.96 L472.46,73.96 L472.47,72.96 L472.47,71.96 L472.47,70.96 L472.47,69.96 L472.48,68.96 L472.48,67.96 L472.48,66.96 L472.49,65.96 L472.49,64.96 L472.49,63.96 L472.50,62.96 L472.50,61.96 L472.50,60.96 L472.51,59.96 L472.51,58.96 L472.51,57.96 L472.52,56.96 L472.52,55.96 L472.53,54.97 L472.53,53.97 L472.54,52.97 L472.54,51.97 L472.55,50.97 L472.55,49.97 L472.56,48.97 L472.56,47.97 L472.57,46.97 L472.57,45.97 L472.58,44.97 L472.58,43.97 L472.59,42.97 L472.60,41.97 L472.60,40.97 L472.61,39.97 L472.62,38.97 L472.62,37.98 L472.63,36.98 L472.64,35.98 L472.65,34.98 L472.65,33.98 L472.66,32.98 L472.67,31.98 L472.68,30.98 L472.69,29.98 L472.70,28.98 L472.71,27.98 L472.72,26.98 L472.73,25.98 L472.74,24.98 L472.75,23.99 L472.76,22.99 L472.77,21.99 L472.78,20.99 L472.79,19.99 L472.80,18.99 L472.82,17.99 L472.83,16.99 L472.84,15.99 L472.85,14.99 L472.87,13.99 L472.88,12.99 L472.89,12.00 L472.91,11.00 L472.92,10.00 L472.94,9.00 L472.95,8.00 L472.97,7.00 L472.98,6.00 L473.00,5.00" stroke="#008000" stroke-width="1.85" stroke-dasharray="2.8 4.105" stroke-dashoffset="1"/>
</g>
<path d="M109.50,255.00L109.50,244.20 M109.50,11.50L109.50,22.30 M137.01,255.00L137.01,249.40 M137.01,11.50L137.01,17.10 M153.10,255.00L153.10,249.40 M153.10,11.50L153.10,17.10 M164.51,255.00L164.51,249.40 M164.51,11.50L164.51,17.10 M173.37,255.00L173.37,249.40 M173.37,11.50L173.37,17.10 M180.60,255.00L180.60,249.40 M180.60,11.50L180.60,17.10 M186.72,255.00L186.72,249.40 M186.72,11.50L186.72,17.10 M192.02,255.00L192.02,249.40 M192.02,11.50L192.02,17.10 M196.69,255.00L196.69,249.40 M196.69,11.50L196.69,17.10 M200.88,255.00L200.88,244.20 M200.88,11.50L200.88,22.30 M228.38,255.00L228.38,249.40 M228.38,11.50L228.38,17.10 M244.47,255.00L244.47,249.40 M244.47,11.50L244.47,17.10 M255.89,255.00L255.89,249.40 M255.89,11.50L255.89,17.10 M264.74,255.00L264.74,249.40 M264.74,11.50L264.74,17.10 M271.98,255.00L271.98,249.40 M271.98,11.50L271.98,17.10 M278.10,255.00L278.10,249.40 M278.10,11.50L278.10,17.10 M283.39,255.00L283.39,249.40 M283.39,11.50L283.39,17.10 M288.07,255.00L288.07,249.40 M288.07,11.50L288.07,17.10 M292.25,255.00L292.25,244.20 M292.25,11.50L292.25,22.30 M319.76,255.00L319.76,249.40 M319.76,11.50L319.76,17.10 M335.85,255.00L335.85,249.40 M335.85,11.50L335.85,17.10 M347.26,255.00L347.26,249.40 M347.26,11.50L347.26,17.10 M356.12,255.00L356.12,249.40 M356.12,11.50L356.12,17.10 M363.35,255.00L363.35,249.40 M363.35,11.50L363.35,17.10 M369.47,255.00L369.47,249.40 M369.47,11.50L369.47,17.10 M374.77,255.00L374.77,249.40 M374.77,11.50L374.77,17.10 M379.44,255.00L379.44,249.40 M379.44,11.50L379.44,17.10 M383.62,255.00L383.62,244.20 M383.62,11.50L383.62,22.30 M411.13,255.00L411.13,249.40 M411.13,11.50L411.13,17.10 M427.22,255.00L427.22,249.40 M427.22,11.50L427.22,17.10 M438.64,255.00L438.64,249.40 M438.64,11.50L438.64,17.10 M447.49,255.00L447.49,249.40 M447.49,11.50L447.49,17.10 M454.73,255.00L454.73,249.40 M454.73,11.50L454.73,17.10 M460.85,255.00L460.85,249.40 M460.85,11.50L460.85,17.10 M466.14,255.00L466.14,249.40 M466.14,11.50L466.14,17.10 M470.82,255.00L470.82,249.40 M470.82,11.50L470.82,17.10 M475.00,255.00L475.00,244.20 M475.00,11.50L475.00,22.30 M109.50,11.50L120.30,11.50 M475.00,11.50L464.20,11.50 M109.50,21.24L115.10,21.24 M475.00,21.24L469.40,21.24 M109.50,30.98L115.10,30.98 M475.00,30.98L469.40,30.98 M109.50,40.72L115.10,40.72 M475.00,40.72L469.40,40.72 M109.50,50.46L115.10,50.46 M475.00,50.46L469.40,50.46 M109.50,60.20L120.30,60.20 M475.00,60.20L464.20,60.20 M109.50,69.94L115.10,69.94 M475.00,69.94L469.40,69.94 M109.50,79.68L115.10,79.68 M475.00,79.68L469.40,79.68 M109.50,89.42L115.10,89.42 M475.00,89.42L469.40,89.42 M109.50,99.16L115.10,99.16 M475.00,99.16L469.40,99.16 M109.50,108.90L120.30,108.90 M475.00,108.90L464.20,108.90 M109.50,118.64L115.10,118.64 M475.00,118.64L469.40,118.64 M109.50,128.38L115.10,128.38 M475.00,128.38L469.40,128.38 M109.50,138.12L115.10,138.12 M475.00,138.12L469.40,138.12 M109.50,147.86L115.10,147.86 M475.00,147.86L469.40,147.86 M109.50,157.60L120.30,157.60 M475.00,157.60L464.20,157.60 M109.50,167.34L115.10,167.34 M475.00,167.34L469.40,167.34 M109.50,177.08L115.10,177.08 M475.00,177.08L469.40,177.08 M109.50,186.82L115.10,186.82 M475.00,186.82L469.40,186.82 M109.50,196.56L115.10,196.56 M475.00,196.56L469.40,196.56 M109.50,206.30L120.30,206.30 M475.00,206.30L464.20,206.30 M109.50,216.04L115.10,216.04 M475.00,216.04L469.40,216.04 M109.50,225.78L115.10,225.78 M475.00,225.78L469.40,225.78 M109.50,235.52L115.10,235.52 M475.00,235.52L469.40,235.52 M109.50,245.26L115.10,245.26 M475.00,245.26L469.40,245.26 M109.50,255.00L120.30,255.00 M475.00,255.00L464.20,255.00" stroke="#000" stroke-width="0.85" fill="none"/>
<rect x="109.5" y="11.5" width="365.5" height="243.5" fill="none" stroke="#000" stroke-width="0.85"/>
<text x="76.0" y="20.00" font-size="21.3" textLength="29.6" lengthAdjust="spacingAndGlyphs">0.0</text>
<text x="76.0" y="68.70" font-size="21.3" textLength="29.6" lengthAdjust="spacingAndGlyphs">0.5</text>
<rect x="65.7" y="63.20" width="9.2" height="2.2" fill="#000"/>
<text x="76.0" y="117.40" font-size="21.3" textLength="29.6" lengthAdjust="spacingAndGlyphs">1.0</text>
<rect x="65.7" y="111.90" width="9.2" height="2.2" fill="#000"/>
<text x="76.0" y="166.10" font-size="21.3" textLength="29.6" lengthAdjust="spacingAndGlyphs">1.5</text>
<rect x="65.7" y="160.60" width="9.2" height="2.2" fill="#000"/>
<text x="76.0" y="214.80" font-size="21.3" textLength="29.6" lengthAdjust="spacingAndGlyphs">2.0</text>
<rect x="65.7" y="209.30" width="9.2" height="2.2" fill="#000"/>
<text x="76.0" y="263.50" font-size="21.3" textLength="29.6" lengthAdjust="spacingAndGlyphs">2.5</text>
<rect x="65.7" y="258.00" width="9.2" height="2.2" fill="#000"/>
<text x="90.20" y="282.1" font-size="21.3" textLength="22.2" lengthAdjust="spacingAndGlyphs">10</text>
<rect x="114.40" y="270.8" width="5.6" height="1.6" fill="#000"/>
<text x="120.50" y="275.9" font-size="14.9" textLength="8.2" lengthAdjust="spacingAndGlyphs">4</text>
<text x="181.57" y="282.1" font-size="21.3" textLength="22.2" lengthAdjust="spacingAndGlyphs">10</text>
<rect x="205.78" y="270.8" width="5.6" height="1.6" fill="#000"/>
<text x="211.88" y="275.9" font-size="14.9" textLength="8.2" lengthAdjust="spacingAndGlyphs">3</text>
<text x="272.95" y="282.1" font-size="21.3" textLength="22.2" lengthAdjust="spacingAndGlyphs">10</text>
<rect x="297.15" y="270.8" width="5.6" height="1.6" fill="#000"/>
<text x="303.25" y="275.9" font-size="14.9" textLength="8.2" lengthAdjust="spacingAndGlyphs">2</text>
<text x="364.33" y="282.1" font-size="21.3" textLength="22.2" lengthAdjust="spacingAndGlyphs">10</text>
<rect x="388.53" y="270.8" width="5.6" height="1.6" fill="#000"/>
<text x="394.62" y="275.9" font-size="14.9" textLength="8.2" lengthAdjust="spacingAndGlyphs">1</text>
<text x="459.10" y="282.1" font-size="21.3" textLength="22.2" lengthAdjust="spacingAndGlyphs">10</text>
<text x="483.00" y="275.9" font-size="14.9" textLength="8.2" lengthAdjust="spacingAndGlyphs">0</text>
<g fill="none" stroke="#000"><path d="M288.9,306.5 Q290.4,303.9 292.9,305.0 Q294.0,305.5 295.0,305.3" stroke-width="1.9" stroke-linecap="round"/><path d="M294.5,305.4 Q296.0,305.2 297.0,304.0" stroke-width="1.0"/><path d="M297.1,303.9 L287.0,313.8" stroke-width="1.15"/><path d="M287.2,313.6 Q288.5,311.6 290.2,311.7" stroke-width="1.0"/><path d="M289.8,311.7 Q291.4,311.7 292.8,312.7 Q294.8,313.9 295.9,311.9" stroke-width="1.9" stroke-linecap="round"/><path d="M295.9,312.0 L296.6,310.1" stroke-width="1.1"/></g>
<text x="140.1" y="41.5" font-size="21" font-style="italic" textLength="12.8" lengthAdjust="spacingAndGlyphs">μ</text>
<path d="M160.1,34.4H178.2M160.1,39.8H178.2 M243.3,34.4H261.3M243.3,39.8H261.3" stroke="#000" stroke-width="1.5" fill="none"/>
<path d="M187.4,35.9 L189.9,34.4 L194.6,43.8 L203.4,24.7 H236.8" stroke="#000" stroke-width="1.2" fill="none" stroke-linejoin="miter"/>
<path d="M189.7,34.6 L194.3,43.6" stroke="#000" stroke-width="2.5" fill="none"/>
<path d="M211.7,27.9 L208.9,38.4" stroke="#000" stroke-width="2.6" fill="none"/><path d="M208.6,37.0 Q207.6,41.2 210.6,40.7 Q212.6,40.2 213.7,37.0" stroke="#000" stroke-width="1.5" fill="none"/><path d="M205.5,31.9 H214.0" stroke="#000" stroke-width="1.3"/>
<text x="214.3" y="44.9" font-size="13.3" textLength="21.5" lengthAdjust="spacingAndGlyphs">cut</text>
<text x="268.4" y="41.6" font-size="21" textLength="21.7" lengthAdjust="spacingAndGlyphs">30</text>
<text x="298.5" y="41.6" font-size="21" textLength="42.6" lengthAdjust="spacingAndGlyphs">GeV</text>
<text x="140.1" y="71.8" font-size="18" textLength="184.6" lengthAdjust="spacingAndGlyphs">MMHT2014nnlo68cl</text>
<path d="M401.9,30.5H438.4" stroke="#ff0000" stroke-width="1.5" fill="none"/>
<path d="M401.9,55.1H438.4" stroke="#0000ff" stroke-width="1.6" stroke-dasharray="8.8 6.5" fill="none"/>
<path d="M401.9,79.3H434.5" stroke="#008000" stroke-width="1.8" stroke-dasharray="2.3 3.57" fill="none"/>
<text x="446.3" y="35.4" font-size="20" font-style="italic" textLength="12.3" lengthAdjust="spacingAndGlyphs">u</text>
<text x="446.3" y="60.0" font-size="20" font-style="italic" textLength="12.3" lengthAdjust="spacingAndGlyphs">d</text>
<text x="446.3" y="83.6" font-size="20" font-style="italic" textLength="11.3" lengthAdjust="spacingAndGlyphs">g</text>
<g transform="translate(0,0)">
<g transform="translate(40.4,50.9) rotate(-90)"><text x="0" y="0" font-size="21.5" style="font-weight:normal" stroke="#000" stroke-width="0.3">[</text></g>
<g transform="translate(39.8,45.6) rotate(-90)"><text x="0" y="0" font-size="20.5" textLength="15.6" lengthAdjust="spacingAndGlyphs">%</text></g>
<g transform="translate(40.4,30.9) rotate(-90)"><text x="0" y="0" font-size="21.5" style="font-weight:normal" stroke="#000" stroke-width="0.3">]</text></g>
<g transform="translate(39.3,66.3) rotate(-90)"><text x="0" y="0" font-size="18.2" textLength="7.0" lengthAdjust="spacingAndGlyphs">1</text></g>
<path d="M34.6,73.2V87.6" stroke="#000" stroke-width="1.4"/>
<path d="M34.3,94.4V241.5" stroke="#000" stroke-width="1.2"/>
<g transform="translate(25.5,238.0) rotate(-90)"><text x="-0.60" y="0" font-size="20" font-style="italic" textLength="15.2" lengthAdjust="spacingAndGlyphs">B</text><text x="16.40" y="-6.2" font-size="14.5" style="font-weight:normal" stroke="#000" stroke-width="0.35" textLength="36.7" lengthAdjust="spacingAndGlyphs">N3LO</text><text x="54.90" y="0.3" font-size="21.5" style="font-weight:normal">(</text><g transform="translate(60.50,0) scale(0.93) translate(-205.5,-41.2)"><path d="M211.7,27.9 L208.9,38.4" stroke="#000" stroke-width="2.6" fill="none"/><path d="M208.6,37.0 Q207.6,41.2 210.6,40.7 Q212.6,40.2 213.7,37.0" stroke="#000" stroke-width="1.5" fill="none"/><path d="M205.5,31.9 H214.0" stroke="#000" stroke-width="1.3"/></g><text x="71.00" y="3.6" font-size="13" textLength="17.9" lengthAdjust="spacingAndGlyphs">cut</text><text x="91.10" y="0" font-size="19">,</text><g transform="translate(100.60,0) scale(0.85) translate(-286.9,-313.8)"><g fill="none" stroke="#000"><path d="M288.9,306.5 Q290.4,303.9 292.9,305.0 Q294.0,305.5 295.0,305.3" stroke-width="1.9" stroke-linecap="round"/><path d="M294.5,305.4 Q296.0,305.2 297.0,304.0" stroke-width="1.0"/><path d="M297.1,303.9 L287.0,313.8" stroke-width="1.15"/><path d="M287.2,313.6 Q288.5,311.6 290.2,311.7" stroke-width="1.0"/><path d="M289.8,311.7 Q291.4,311.7 292.8,312.7 Q294.8,313.9 295.9,311.9" stroke-width="1.9" stroke-linecap="round"/><path d="M295.9,312.0 L296.6,310.1" stroke-width="1.1"/></g></g><text x="111.30" y="0" font-size="19">,</text><text x="120.30" y="0" font-size="18" font-style="italic" textLength="12.2" lengthAdjust="spacingAndGlyphs">μ</text><text x="133.60" y="0.3" font-size="21.5" style="font-weight:normal">)</text></g>
<g transform="translate(53.3,241.3) rotate(-90)"><text x="-0.60" y="0" font-size="20" font-style="italic" textLength="15.2" lengthAdjust="spacingAndGlyphs">B</text><text x="16.30" y="-6.2" font-size="14.5" style="font-weight:normal" stroke="#000" stroke-width="0.35" textLength="43.2" lengthAdjust="spacingAndGlyphs">NNLO</text><text x="60.00" y="0.3" font-size="21.5" style="font-weight:normal">(</text><g transform="translate(65.60,0) scale(0.93) translate(-205.5,-41.2)"><path d="M211.7,27.9 L208.9,38.4" stroke="#000" stroke-width="2.6" fill="none"/><path d="M208.6,37.0 Q207.6,41.2 210.6,40.7 Q212.6,40.2 213.7,37.0" stroke="#000" stroke-width="1.5" fill="none"/><path d="M205.5,31.9 H214.0" stroke="#000" stroke-width="1.3"/></g><text x="76.10" y="3.6" font-size="13" textLength="17.9" lengthAdjust="spacingAndGlyphs">cut</text><text x="96.20" y="0" font-size="19">,</text><g transform="translate(105.70,0) scale(0.85) translate(-286.9,-313.8)"><g fill="none" stroke="#000"><path d="M288.9,306.5 Q290.4,303.9 292.9,305.0 Q294.0,305.5 295.0,305.3" stroke-width="1.9" stroke-linecap="round"/><path d="M294.5,305.4 Q296.0,305.2 297.0,304.0" stroke-width="1.0"/><path d="M297.1,303.9 L287.0,313.8" stroke-width="1.15"/><path d="M287.2,313.6 Q288.5,311.6 290.2,311.7" stroke-width="1.0"/><path d="M289.8,311.7 Q291.4,311.7 292.8,312.7 Q294.8,313.9 295.9,311.9" stroke-width="1.9" stroke-linecap="round"/><path d="M295.9,312.0 L296.6,310.1" stroke-width="1.1"/></g></g><text x="116.40" y="0" font-size="19">,</text><text x="125.40" y="0" font-size="18" font-style="italic" textLength="12.2" lengthAdjust="spacingAndGlyphs">μ</text><text x="138.70" y="0.3" font-size="21.5" style="font-weight:normal">)</text></g>
</g>
</svg></body></html>
